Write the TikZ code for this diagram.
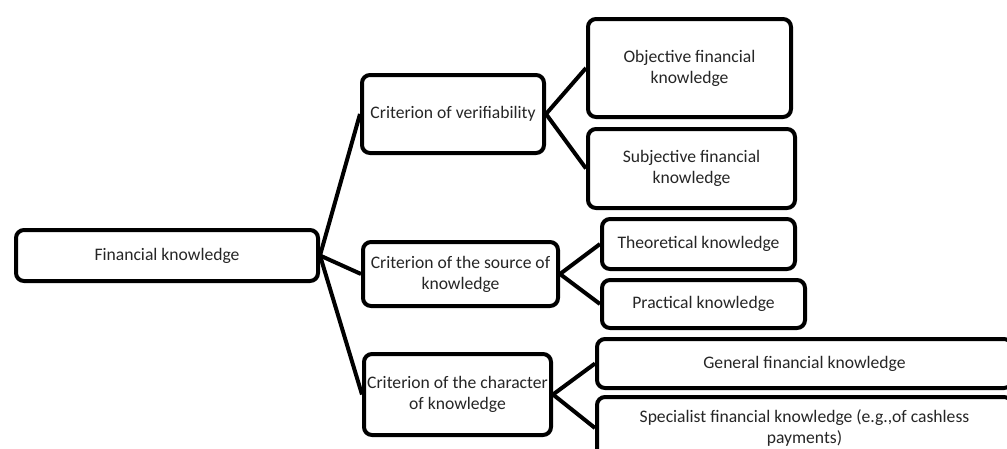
\documentclass[tikz,border=0pt]{standalone}
\usepackage{fontspec}
\setmainfont{Carlito}
\begin{document}
\begin{tikzpicture}[x=1pt,y=-1pt,
  box/.style={draw=black, line width=4pt, rounded corners=8pt, fill=white,
    inner sep=0pt, align=center, font=\fontsize{17.6}{21}\selectfont,
    text=black!85},
  link/.style={line width=4pt, draw=black}]
\useasboundingbox (0,0) rectangle (1007,448);
% nodes
\node[box, minimum width=302pt, minimum height=51pt] (root) at (167,255.5) {Financial knowledge};
\node[box, minimum width=182pt, minimum height=78pt] (c1) at (453,114) {Criterion of verifiability};
\node[box, minimum width=195pt, minimum height=64pt] (c2) at (460.5,274) {Criterion of the source of\\knowledge};
\node[box, minimum width=187pt, minimum height=81pt] (c3) at (457.5,394.5) {Criterion of the character\\of knowledge};
\node[box, minimum width=203pt, minimum height=98pt] (obj) at (689.5,68) {Objective financial\\knowledge};
\node[box, minimum width=207pt, minimum height=79pt] (subj) at (691.5,168.5) {Subjective financial\\knowledge};
\node[box, minimum width=193pt, minimum height=50pt] (theo) at (698.5,244) {Theoretical knowledge};
\node[box, minimum width=203pt, minimum height=48pt] (prac) at (703.5,304) {Practical knowledge};
\node[box, minimum width=415pt, minimum height=49pt] (gen) at (804.5,363.5) {General financial knowledge};
\node[box, minimum width=415pt, minimum height=62pt] (spec) at (804.5,428) {Specialist financial knowledge (e.g.,of cashless\\payments)};
% connectors
\draw[link] (root.east) -- (c1.west);
\draw[link] (root.east) -- (c2.west);
\draw[link] (root.east) -- (c3.west);
\draw[link] (c1.east) -- (obj.west);
\draw[link] (c1.east) -- (subj.west);
\draw[link] (c2.east) -- (theo.west);
\draw[link] (c2.east) -- (prac.west);
\draw[link] (c3.east) -- (gen.west);
\draw[link] (c3.east) -- (spec.west);
\end{tikzpicture}
\end{document}
